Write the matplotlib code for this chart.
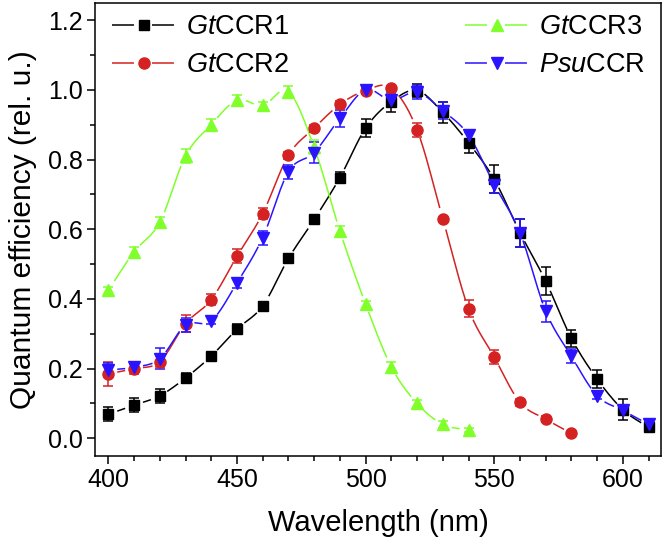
import numpy as np
import matplotlib.pyplot as plt
from matplotlib.lines import Line2D

plt.rcParams['font.family'] = ['Liberation Sans', 'DejaVu Sans']
plt.rcParams['mathtext.fontset'] = 'custom'
plt.rcParams['mathtext.rm'] = 'Liberation Sans'
plt.rcParams['mathtext.it'] = 'Liberation Sans:italic'

# wavelengths (nm)
wl_long = [400, 410, 420, 430, 440, 450, 460, 470, 480, 490, 500,
           510, 520, 530, 540, 550, 560, 570, 580, 590, 600, 610]
wl_ccr2 = [400, 410, 420, 430, 440, 450, 460, 470, 480, 490, 500,
           510, 520, 530, 540, 550, 560, 570, 580]
wl_ccr3 = [400, 410, 420, 430, 440, 450, 460, 470, 480, 490, 500,
           510, 520, 530, 540]

# quantum efficiency (rel. u.) and errors
gt1 = [0.069, 0.095, 0.122, 0.173, 0.236, 0.313, 0.380, 0.516, 0.628, 0.748, 0.890,
       0.966, 0.998, 0.935, 0.848, 0.743, 0.590, 0.451, 0.287, 0.170, 0.082, 0.031]
gt1_err = [0.02, 0.02, 0.02, 0.015, 0.01, 0.015, 0.01, 0.01, 0.01, 0.015, 0.025,
           0.03, 0.02, 0.03, 0.03, 0.04, 0.04, 0.04, 0.025, 0.025, 0.03, 0.01]

gt2 = [0.185, 0.200, 0.220, 0.329, 0.398, 0.522, 0.645, 0.812, 0.890, 0.958,
       0.998, 1.005, 0.885, 0.630, 0.372, 0.233, 0.103, 0.055, 0.014]
gt2_err = [0.035, 0.015, 0.015, 0.025, 0.015, 0.02, 0.015, 0.01, 0.01, 0.01,
           0.01, 0.005, 0.02, 0.005, 0.025, 0.02, 0.01, 0.008, 0.005]

gt3 = [0.425, 0.535, 0.620, 0.810, 0.900, 0.970, 0.955, 0.995, 0.835, 0.595,
       0.385, 0.205, 0.100, 0.040, 0.024]
gt3_err = [0.01, 0.015, 0.015, 0.02, 0.015, 0.015, 0.01, 0.015, 0.02, 0.015,
           0.01, 0.015, 0.01, 0.01, 0.005]

psu = [0.196, 0.204, 0.228, 0.325, 0.337, 0.446, 0.576, 0.765, 0.820, 0.918, 1.000,
       0.970, 0.993, 0.940, 0.870, 0.728, 0.590, 0.365, 0.235, 0.122, 0.080, 0.040]
psu_err = [0.02, 0.01, 0.03, 0.02, 0.01, 0.015, 0.02, 0.02, 0.03, 0.025, 0.01,
           0.02, 0.02, 0.025, 0.015, 0.025, 0.04, 0.03, 0.02, 0.01, 0.01, 0.01]

labels = [r'$\it{Gt}$CCR1', r'$\it{Gt}$CCR2', r'$\it{Gt}$CCR3', r'$\it{Psu}$CCR']
COLORS = ['#000000', '#d42222', '#80ff2a', '#2a14ff']
MARKERS = ['s', 'o', '^', 'v']
SIZES = [6.5, 8, 8.5, 8.5]
LW = 1.1


def smooth(x, y, n=16):
    # Catmull-Rom curve through the points (only for the connecting line)
    x = np.asarray(x, float)
    y = np.asarray(y, float)
    px = np.concatenate([[2 * x[0] - x[1]], x, [2 * x[-1] - x[-2]]])
    py = np.concatenate([[2 * y[0] - y[1]], y, [2 * y[-1] - y[-2]]])
    t = np.linspace(0, 1, n, endpoint=False)[:, None]
    xs, ys = [], []
    for i in range(1, len(px) - 2):
        for p, out in ((px, xs), (py, ys)):
            p0, p1, p2, p3 = p[i - 1], p[i], p[i + 1], p[i + 2]
            v = 0.5 * (2 * p1 + (-p0 + p2) * t + (2 * p0 - 5 * p1 + 4 * p2 - p3) * t ** 2
                       + (-p0 + 3 * p1 - 3 * p2 + p3) * t ** 3)
            out.append(v.ravel())
    xs.append([x[-1]])
    ys.append([y[-1]])
    return np.concatenate(xs), np.concatenate(ys)


fig = plt.figure(figsize=(6.64, 5.48), dpi=100)
ax = fig.add_axes([0.1438, 0.1684, 0.8524, 0.8267])
ax.set_xlim(395, 615)
ax.set_ylim(-0.05, 1.25)

series = [(wl_long, gt1, gt1_err), (wl_ccr2, gt2, gt2_err),
          (wl_ccr3, gt3, gt3_err), (wl_long, psu, psu_err)]

GAP = 9  # px gap between line and symbol
for i, (x, y, e) in enumerate(series):
    c = COLORS[i]
    sx, sy = smooth(x, y)
    # cut the line around each symbol
    d_line = ax.transData.transform(np.column_stack([sx, sy]))
    d_pts = ax.transData.transform(np.column_stack([x, y]))
    dist = np.min(np.hypot(d_line[:, None, 0] - d_pts[None, :, 0],
                           d_line[:, None, 1] - d_pts[None, :, 1]), axis=1)
    sy = np.where(dist < GAP, np.nan, sy)
    ax.plot(sx, sy, color=c, lw=LW, zorder=2)
    ax.errorbar(x, y, yerr=e, fmt='none', ecolor=c, elinewidth=LW,
                capsize=3.6, capthick=LW, zorder=3)
    ax.plot(x, y, ls='none', marker=MARKERS[i], ms=SIZES[i], color=c, zorder=4)

ax.set_xticks([400, 450, 500, 550, 600])
ax.set_xticks(np.arange(400, 615, 10), minor=True)
ax.set_yticks([0.0, 0.2, 0.4, 0.6, 0.8, 1.0, 1.2])
ax.set_yticks(np.arange(0.0, 1.25, 0.1), minor=True)
ax.yaxis.set_major_formatter(plt.FormatStrFormatter('%.1f'))
ax.tick_params(which='major', direction='out', length=6, width=LW, labelsize=18, pad=3)
ax.tick_params(which='minor', direction='out', length=3.5, width=LW)
for s in ax.spines.values():
    s.set_linewidth(LW)

ax.set_xlabel('Wavelength (nm)', fontsize=21, labelpad=12)
ax.set_ylabel('Quantum efficiency (rel. u.)', fontsize=21.5, labelpad=8)

handles = [Line2D([], [], color=COLORS[i], marker=MARKERS[i], ms=SIZES[i], lw=LW,
                  linestyle=(0, (15.8 / LW, 13 / LW))) for i in range(4)]
leg_kw = dict(loc='upper left', frameon=False, fontsize=19.5, handlelength=2.36,
              handletextpad=0.37, borderpad=0, borderaxespad=0, labelspacing=0.45)
leg1 = ax.legend(handles[:2], labels[:2], bbox_to_anchor=(0.029, 0.975), **leg_kw)
ax.add_artist(leg1)
ax.legend(handles[2:], labels[2:], bbox_to_anchor=(0.653, 0.975), **leg_kw)

fig.savefig('out.png', dpi=100)
